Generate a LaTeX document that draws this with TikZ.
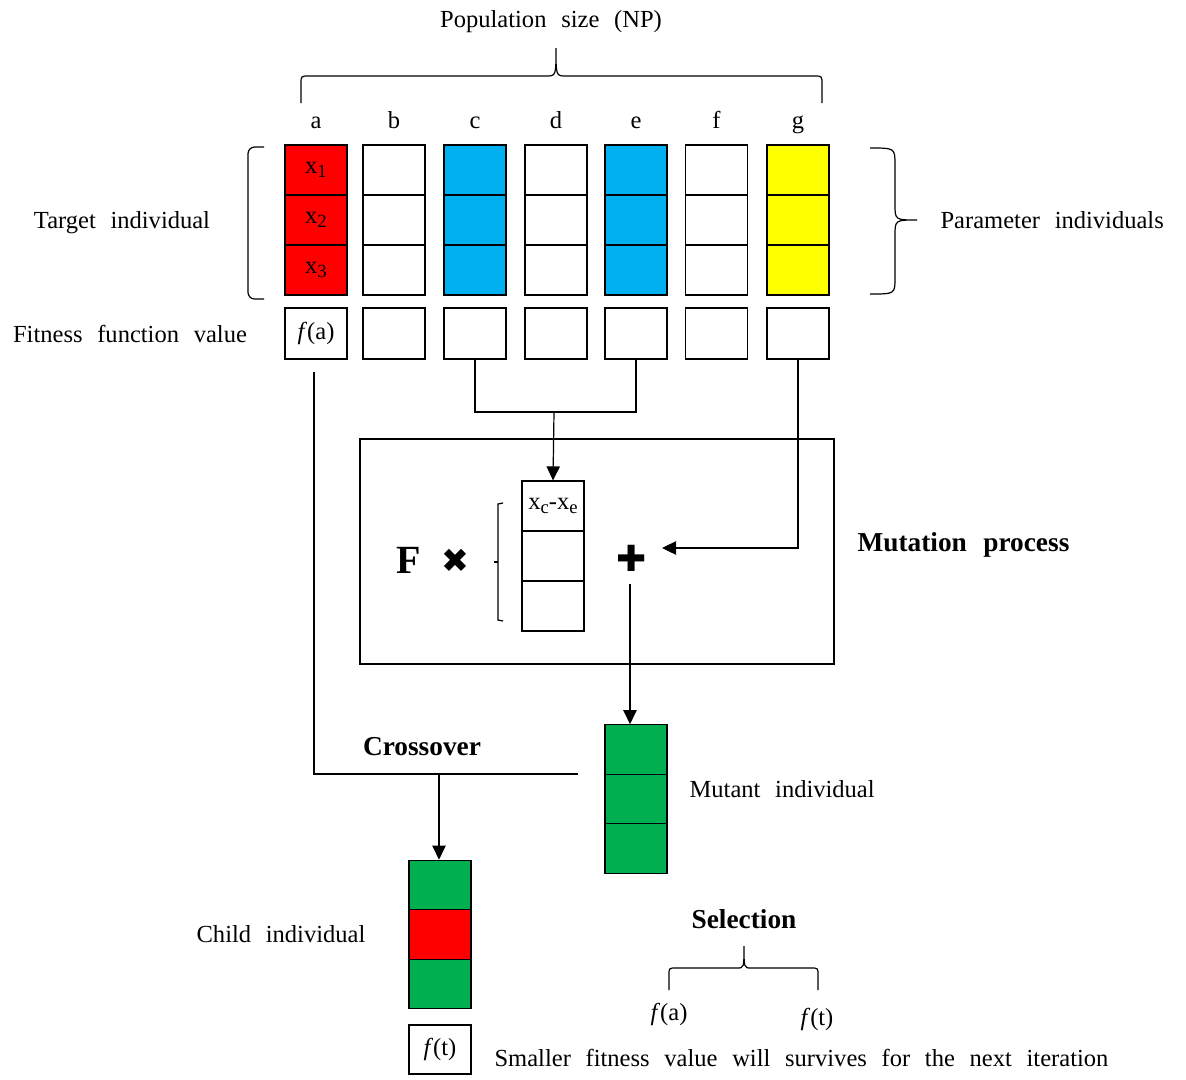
\documentclass[tikz,border=0pt]{standalone}
\usepackage{fontspec}
\setmainfont{Liberation Serif}[WordSpace=2.4]
\newfontfamily\symfont{DejaVu Sans}
\usetikzlibrary{arrows.meta,calc}
\definecolor{cred}{RGB}{255,0,0}
\definecolor{cblue}{RGB}{0,176,240}
\definecolor{cyel}{RGB}{255,255,0}
\definecolor{cgreen}{RGB}{0,176,80}
\newcommand{\sbx}[1]{\raisebox{-0.4ex}{\fontsize{14}{14}\selectfont #1}}
\begin{document}
\begin{tikzpicture}[x=0.75pt,y=-0.75pt, line width=0.9pt,
  every node/.style={font=\fontsize{18.4}{21}\selectfont, inner sep=0pt},
  cell/.style={draw, minimum width=46.5pt, minimum height=37.5pt},
  fcell/.style={draw, minimum width=46.5pt, minimum height=38.25pt},
  arr/.style={-{Triangle[width=10pt,length=10.5pt]}},
  bold/.style={font=\fontsize{20.5}{23}\selectfont\bfseries},
  brk/.style={line width=0.9pt}]
\useasboundingbox (0,0) rectangle (1186,1079);

% population
\foreach \n/\x/\c in {a/316/cred, b/394/white, c/475/cblue, d/556/white, e/636/cblue, f/716.5/white, g/798/cyel}{
  \node[cell, fill=\c] (\n1) at (\x,170) {};
  \node[cell, fill=\c] (\n2) at (\x,220) {};
  \node[cell, fill=\c] (\n3) at (\x,270) {};
  \node[fcell] (fit\n) at (\x,333.5) {};
  \node[anchor=base] (lab\n) at (\x,128) {\n};
}
\node (xa1) at (a1.center) {x\sbx{1}};
\node (xa2) at (a2.center) {x\sbx{2}};
\node (xa3) at (a3.center) {x\sbx{3}};
\node (fa) at (fita.center) {\textit{f}(a)};

\node[anchor=base] (pop) at (551,27) {Population size (NP)};
\node[anchor=base] (target) at (122,228) {Target individual};
\node[anchor=base] (fitness) at (130,342) {Fitness function value};
\node[anchor=base west] (param) at (940,228) {Parameter individuals};

% top brace
\draw[brk] (301,103) -- (301,84) .. controls (301,76) .. (309,76) -- (546,76)
  .. controls (556,76) .. (556,48) .. controls (556,76) .. (566,76) -- (814,76)
  .. controls (822,76) .. (822,84) -- (822,103);
% left bracket
\draw[brk, rounded corners=5pt] (264,147) -- (248,147) -- (248,299) -- (264,299);
% right brace
\draw[brk] (870,148) .. controls (895,148) .. (895,165) -- (895,204)
  .. controls (895,220) .. (917,220) .. controls (895,220) .. (895,236)
  -- (895,278) .. controls (895,294) .. (870,294);

% mutation box
\node[draw, minimum width=355.5pt, minimum height=168.75pt] (mbox) at (597,551.5) {};
\node[anchor=base west, bold] (mlab) at (857,551) {Mutation process};
\node[cell] (m1) at (553,506) {};
\node[cell] (m2) at (553,556) {};
\node[cell] (m3) at (553,606) {};
\node (xcxe) at (m1.center) {x\sbx{c}-x\sbx{e}};
\draw[brk] (503,503) -- (498,504) -- (498,620) -- (503,621);
\draw[brk] (498,562) -- (494,562);
\node[anchor=base, font=\fontsize{30}{32}\selectfont\bfseries] (F) at (409,573) {F};
\node[font=\fontsize{25}{26}\selectfont\symfont] (times) at (455,561) {✖};
\node[font=\fontsize{27}{28}\selectfont\symfont] (plus) at (632,558) {✚};

% connectors c,e -> difference
\coordinate (j1) at (554,412);
\draw (fitc.south) |- (j1) -| (fite.south);
\draw[arr] (j1) -- (m1.north);
% g -> plus
\coordinate (gp) at (662,548);
\draw[arr] (fitg.south) |- (gp);
% plus -> mutant
\coordinate (pb) at (630,584);
\node[cell, fill=cgreen, minimum height=37.1pt] (mu1) at (636,749.5) {};
\node[cell, fill=cgreen, minimum height=37.1pt] (mu2) at (636,799) {};
\node[cell, fill=cgreen, minimum height=37.1pt] (mu3) at (636,848.5) {};
\draw[arr] (pb) -- (pb |- mu1.north);
\node[anchor=base west] (mutlab) at (689,797) {Mutant individual};

% crossover
\coordinate (cx0) at (314,372);
\coordinate (cx1) at (578,774);
\coordinate (cxm) at (439,774);
\draw (cx0) |- (cx1);
\node[anchor=base, bold] (cxlab) at (422,755) {Crossover};
\node[cell, fill=cgreen, minimum height=37.1pt] (ch1) at (440,885) {};
\node[cell, fill=cred, minimum height=37.1pt] (ch2) at (440,934.5) {};
\node[cell, fill=cgreen, minimum height=37.1pt] (ch3) at (440,984) {};
\draw[arr] (cxm) -- (cxm |- ch1.north);
\node[anchor=base] (chlab) at (281,942) {Child individual};
\node[draw, minimum width=46.5pt, minimum height=36.75pt] (ft) at (440,1049.5) {\textit{f}(t)};

% selection
\node[anchor=base, bold] (sel) at (744,928) {Selection};
\draw[brk] (669,990) -- (669,975) .. controls (669,968) .. (676,968) -- (737,968)
  .. controls (744,968) .. (744,946) .. controls (744,968) .. (751,968) -- (811,968)
  .. controls (818,968) .. (818,975) -- (818,990);
\node[anchor=base] (sfa) at (669,1020) {\textit{f}(a)};
\node[anchor=base] (sft) at (817,1025) {\textit{f}(t)};
\node[anchor=base west] (small) at (494,1066) {Smaller fitness value will survives for the next iteration};
\end{tikzpicture}
\end{document}
